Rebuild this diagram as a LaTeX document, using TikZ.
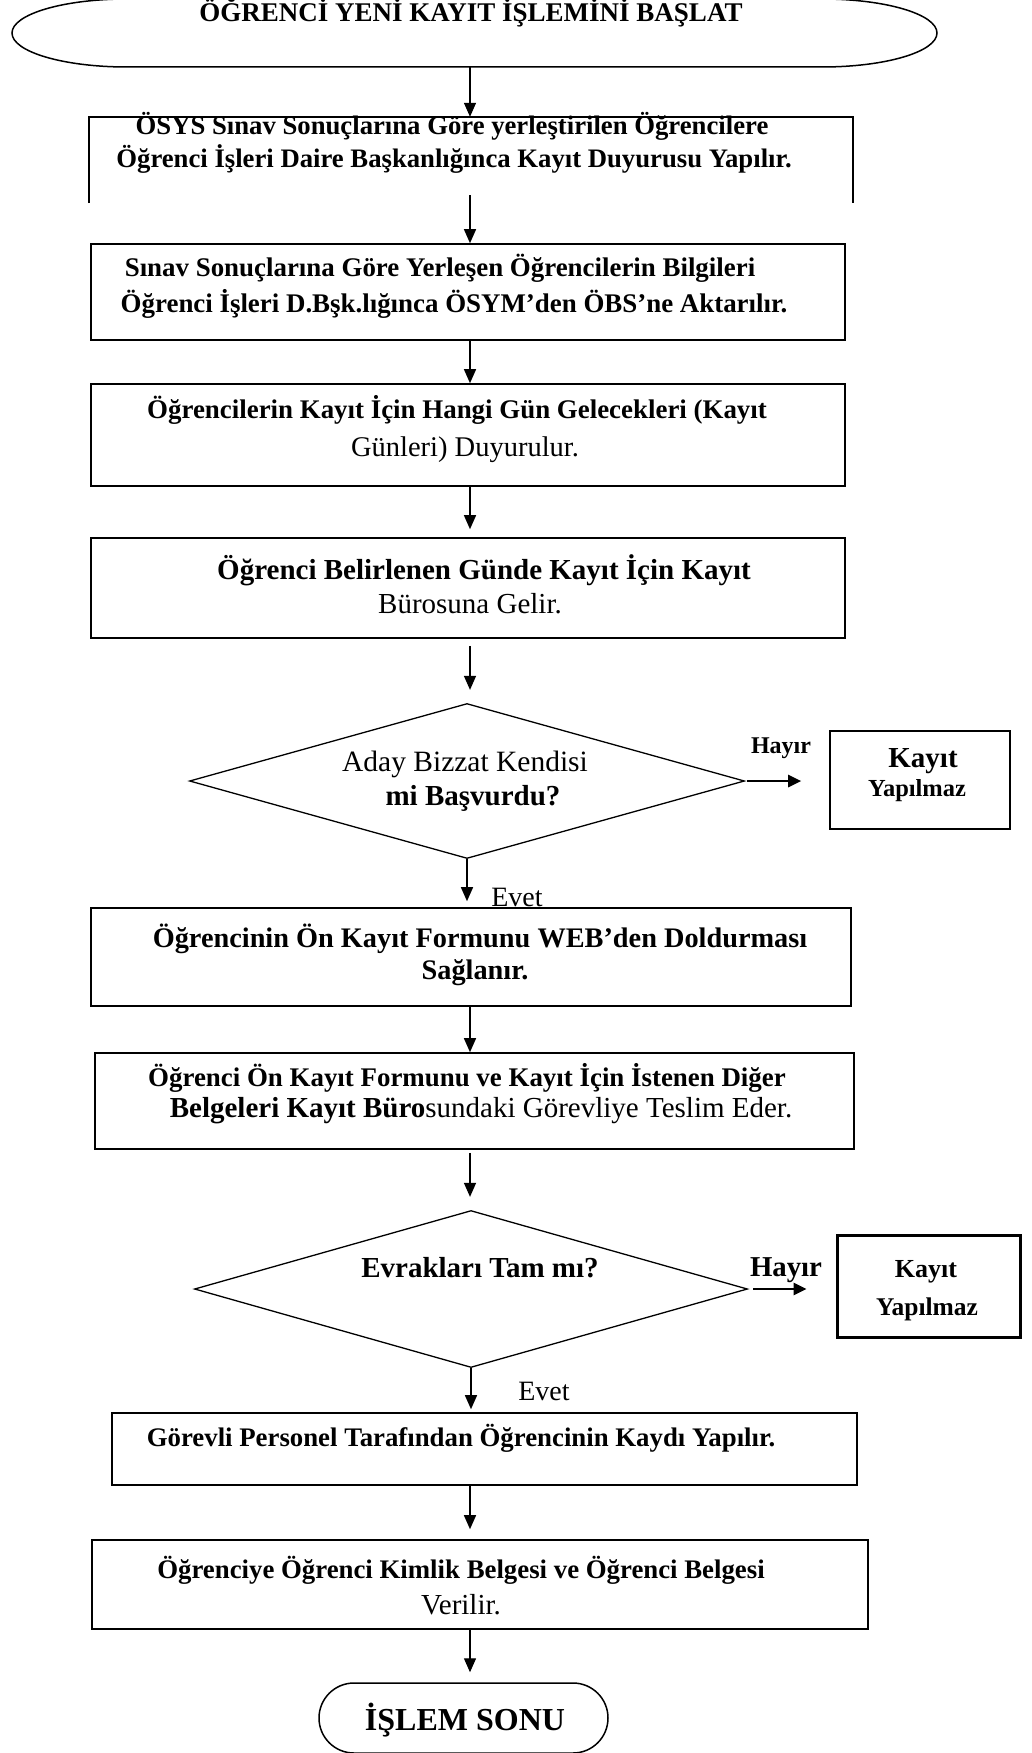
\documentclass[tikz,border=0pt]{standalone}
\usepackage{fontspec}
\setmainfont{Liberation Serif}
\usetikzlibrary{arrows.meta,shapes.geometric,shapes.misc}
\newcommand\fsz[1]{\fontsize{#1pt}{#1pt}\selectfont}

\begin{document}
\begin{tikzpicture}[x=1pt,y=1pt,
  box/.style={draw, line width=1.6pt, inner sep=0pt},
  openbox/.style={inner sep=0pt},
  decision/.style={draw, diamond, line width=1.3pt, inner sep=0pt},
  txt/.style={anchor=base, inner sep=0pt},
  arr/.style={line width=1.4pt, -{Triangle[length=14pt,width=12pt]}},
  sidearr/.style={line width=2.6pt, -{Triangle[length=13pt,width=12pt]}},
  ]
\useasboundingbox (0,0) rectangle (1032,-1753);
\coordinate (spine) at (470,0);

% start terminal: flat top and bottom with elliptical ends
\node[inner sep=0pt, minimum width=925pt, minimum height=68pt] (st) at (474.5,-33) {};
\draw[line width=1.5pt] (127,1) -- (822,1)
  arc[start angle=90, end angle=-90, x radius=115, y radius=34]
  -- (127,-67)
  arc[start angle=270, end angle=90, x radius=115, y radius=34] -- cycle;
\node[txt, font=\fsz{27}\bfseries] (t0) at (471,-22) {ÖĞRENCİ YENİ KAYIT İŞLEMİNİ BAŞLAT};

% first step: box drawn without its bottom side
\node[openbox, minimum width=764pt, minimum height=86pt] (b1) at (471,-160) {};
\draw[line width=1.6pt] (b1.south west) -- (b1.north west) -- (b1.north east) -- (b1.south east);
\node[txt, font=\fsz{26.7}\bfseries] (t1a) at (452,-134) {ÖSYS Sınav Sonuçlarına Göre yerleştirilen Öğrencilere};
\node[txt, font=\fsz{26.7}\bfseries] (t1b) at (454,-167) {Öğrenci İşleri Daire Başkanlığınca Kayıt Duyurusu Yapılır.};

% process steps
\node[box, minimum width=754pt, minimum height=96pt] (b2) at (468,-292) {};
\node[txt, font=\fsz{26.9}\bfseries] (t2a) at (440,-276) {Sınav Sonuçlarına Göre Yerleşen Öğrencilerin Bilgileri};
\node[txt, font=\fsz{26.9}\bfseries] (t2b) at (454,-312) {Öğrenci İşleri D.Bşk.lığınca ÖSYM’den ÖBS’ne Aktarılır.};

\node[box, minimum width=754pt, minimum height=102pt] (b3) at (468,-435) {};
\node[txt, font=\fsz{26.9}\bfseries] (t3a) at (457,-418) {Öğrencilerin Kayıt İçin Hangi Gün Gelecekleri (Kayıt};
\node[txt, font=\fsz{28.5}] (t3b) at (465,-456) {Günleri) Duyurulur.};

\node[box, minimum width=754pt, minimum height=100pt] (b4) at (468,-588) {};
\node[txt, font=\fsz{29}\bfseries] (t4a) at (484,-579) {Öğrenci Belirlenen Günde Kayıt İçin Kayıt};
\node[txt, font=\fsz{29}] (t4b) at (470,-613) {Bürosuna Gelir.};

% first decision
\node[decision, minimum width=555pt, minimum height=155pt] (d1) at (467,-781) {};
\node[txt, font=\fsz{29.5}] (td1a) at (465,-771) {Aday Bizzat Kendisi};
\node[txt, font=\fsz{29}\bfseries] (td1b) at (473,-805) {mi Başvurdu?};
\node[box, minimum width=180pt, minimum height=98pt] (k1) at (920,-780) {};
\node[txt, font=\fsz{29}\bfseries] (tk1a) at (923,-767) {Kayıt};
\node[txt, font=\fsz{24.5}\bfseries] (tk1b) at (917,-796) {Yapılmaz};
\node[txt, font=\fsz{24}\bfseries] (th1) at (781,-753) {Hayır};
\node[txt, font=\fsz{28}] (te1) at (517,-906) {Evet};

\node[box, minimum width=760pt, minimum height=98pt] (b5) at (471,-957) {};
\node[txt, font=\fsz{28.3}\bfseries] (t5a) at (480,-947) {Öğrencinin Ön Kayıt Formunu WEB’den Doldurması};
\node[txt, font=\fsz{28.3}\bfseries] (t5b) at (475,-979) {Sağlanır.};

\node[box, minimum width=759pt, minimum height=96pt] (b6) at (474.5,-1101) {};
\node[txt, font=\fsz{26.9}\bfseries] (t6a) at (467,-1086) {Öğrenci Ön Kayıt Formunu ve Kayıt İçin İstenen Diğer};
\node[txt, font=\fsz{29}] (t6b) at (481,-1117) {\textbf{Belgeleri Kayıt Büro}sundaki Görevliye Teslim Eder.};

% second decision
\node[decision, minimum width=553pt, minimum height=157pt] (d2) at (471,-1289) {};
\node[txt, font=\fsz{29}\bfseries] (td2) at (480,-1277) {Evrakları Tam mı?};
\node[box, line width=3pt, minimum width=183pt, minimum height=102pt] (k2) at (928.5,-1286) {};
\node[txt, font=\fsz{26}\bfseries] (tk2a) at (926,-1277) {Kayıt};
\node[txt, font=\fsz{25.5}\bfseries] (tk2b) at (927,-1315) {Yapılmaz};
\node[txt, font=\fsz{28.8}\bfseries] (th2) at (786,-1276) {Hayır};
\node[txt, font=\fsz{28}] (te2) at (544,-1400) {Evet};

\node[box, minimum width=745pt, minimum height=72pt] (b7) at (484.5,-1449) {};
\node[txt, font=\fsz{26.8}\bfseries] (t7) at (461,-1446) {Görevli Personel Tarafından Öğrencinin Kaydı Yapılır.};

\node[box, minimum width=776pt, minimum height=89pt] (b8) at (480,-1584.5) {};
\node[txt, font=\fsz{26.8}\bfseries] (t8a) at (461,-1578) {Öğrenciye Öğrenci Kimlik Belgesi ve Öğrenci Belgesi};
\node[txt, font=\fsz{29}] (t8b) at (461,-1614) {Verilir.};

% end terminal
\node[draw, rounded rectangle, line width=1.5pt, inner sep=0pt, minimum width=289pt, minimum height=70pt] (stop) at (463.5,-1718) {};
\node[txt, font=\fsz{32}\bfseries] (tstop) at (465,-1730) {İŞLEM SONU};

% connectors
\draw[arr] (st.south -| spine) -- (b1.north -| spine);
\draw[arr, shorten <=-8pt] (b1.south -| spine) -- (b2.north -| spine);
\draw[arr] (b2.south -| spine) -- (b3.north -| spine);
\draw[arr, shorten >=8pt] (b3.south -| spine) -- (b4.north -| spine);
\draw[arr, shorten <=7pt, shorten >=13pt] (b4.south -| spine) -- (d1.north -| spine);
\draw[arr, shorten >=6pt] (d1.south) -- (d1.south |- b5.north);
\draw[arr] (b5.south -| spine) -- (b6.north -| spine);
\draw[arr, shorten <=3pt, shorten >=13pt] (b6.south -| spine) -- (d2.north -| spine);
\draw[arr, shorten >=3pt] (d2.south) -- (d2.south |- b7.north);
\draw[arr, shorten >=10pt] (b7.south -| spine) -- (b8.north -| spine);
\draw[arr, shorten >=10pt] (b8.south -| spine) -- (stop.north -| spine);
\draw[sidearr, shorten <=2pt, shorten >=28pt] (d1.east) -- (d1.east -| k1.west);
\draw[sidearr, shorten <=5pt, shorten >=29pt] (d2.east) -- (d2.east -| k2.west);
\end{tikzpicture}
\end{document}
